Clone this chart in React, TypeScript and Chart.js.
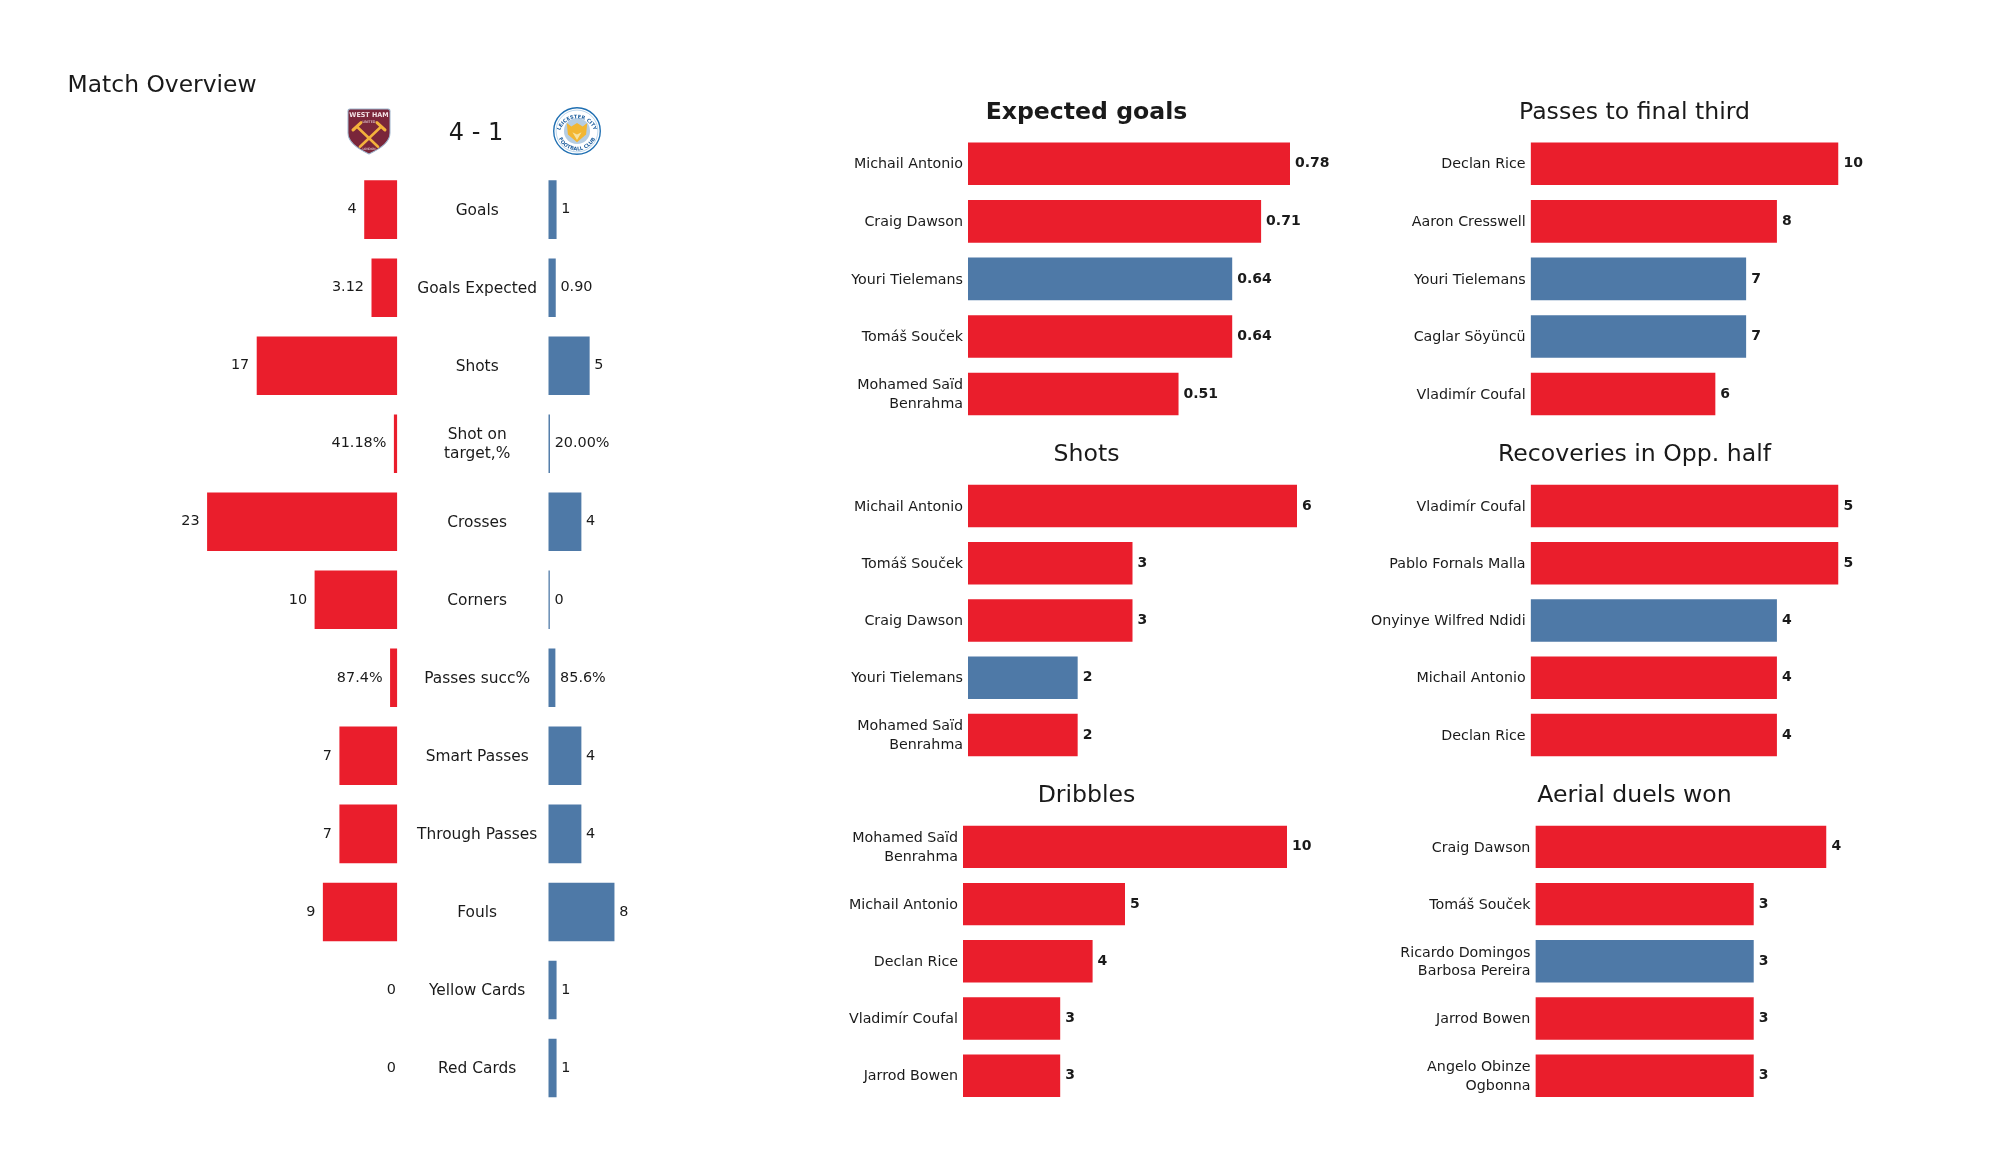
import React, { useEffect, useRef } from "react";
import Chart from "chart.js/auto";

// ---------- data ----------
const overviewCategories = ["Goals", "Goals Expected", "Shots", ["Shot on", "target,%"], "Crosses", "Corners", "Passes succ%", "Smart Passes", "Through Passes", "Fouls", "Yellow Cards", "Red Cards"];
const homeValues = [4, 3.12, 17, 0.4118, 23, 10, 0.874, 7, 7, 9, 0, 0];
const awayValues = [1, 0.9, 5, 0.2, 4, 0, 0.856, 4, 4, 8, 1, 1];
const homeLabels = ["4", "3.12", "17", "41.18%", "23", "10", "87.4%", "7", "7", "9", "0", "0"];
const awayLabels = ["1", "0.90", "5", "20.00%", "4", "0", "85.6%", "4", "4", "8", "1", "1"];

const H = "home";
const A = "away";

const xgNames = ["Michail Antonio", "Craig Dawson", "Youri Tielemans", "Tomáš Souček", ["Mohamed Saïd", "Benrahma"]];
const xgValues = [0.78, 0.71, 0.64, 0.64, 0.51];
const xgTeams = [H, H, A, H, H];

const finalThirdNames = ["Declan Rice", "Aaron Cresswell", "Youri Tielemans", "Caglar Söyüncü", "Vladimír Coufal"];
const finalThirdValues = [10, 8, 7, 7, 6];
const finalThirdTeams = [H, H, A, A, H];

const shotsNames = ["Michail Antonio", "Tomáš Souček", "Craig Dawson", "Youri Tielemans", ["Mohamed Saïd", "Benrahma"]];
const shotsValues = [6, 3, 3, 2, 2];
const shotsTeams = [H, H, H, A, H];

const recoveriesNames = ["Vladimír Coufal", "Pablo Fornals Malla", "Onyinye Wilfred Ndidi", "Michail Antonio", "Declan Rice"];
const recoveriesValues = [5, 5, 4, 4, 4];
const recoveriesTeams = [H, H, A, H, H];

const dribblesNames = [["Mohamed Saïd", "Benrahma"], "Michail Antonio", "Declan Rice", "Vladimír Coufal", "Jarrod Bowen"];
const dribblesValues = [10, 5, 4, 3, 3];
const dribblesTeams = [H, H, H, H, H];

const aerialNames = ["Craig Dawson", "Tomáš Souček", ["Ricardo Domingos", "Barbosa Pereira"], "Jarrod Bowen", ["Angelo Obinze", "Ogbonna"]];
const aerialValues = [4, 3, 3, 3, 3];
const aerialTeams = [H, H, A, H, H];

// ---------- styling ----------
const RED = "#EA1E2C";
const BLUE = "#4E79A7";
const INK = "#1a1a1a";
const FAMILY = "'DejaVu Sans'";
const teamColor = (t: string) => (t === H ? RED : BLUE);

const PX_PER_UNIT = 8.27;
const CENTER_LINE = 397.3;
const AWAY_LEFT = 548.3;
const OV_TOP = 170.6;
const OV_BOTTOM = 1107;

function baseOptions(extra: any) {
  return {
    responsive: false,
    animation: false,
    indexAxis: "y",
    events: [],
    plugins: { legend: { display: false }, tooltip: { enabled: false }, title: { display: false } },
    ...extra,
  };
}

function textPlugin(items: { text: string; x: number; y: number; font: string; align: CanvasTextAlign }[]) {
  return {
    id: "panelText",
    afterDraw(chart: any) {
      const c = chart.ctx;
      c.save();
      c.fillStyle = INK;
      c.textBaseline = "middle";
      for (const t of items) {
        c.font = t.font;
        c.textAlign = t.align;
        c.fillText(t.text, t.x, t.y);
      }
      c.restore();
    },
  };
}

function valuePlugin(labels: string[], font: string, side: "left" | "right", gap: (i: number) => number) {
  return {
    id: "valueLabels",
    afterDatasetsDraw(chart: any) {
      const c = chart.ctx;
      const meta = chart.getDatasetMeta(0);
      c.save();
      c.fillStyle = INK;
      c.font = font;
      c.textBaseline = "middle";
      c.textAlign = side === "left" ? "right" : "left";
      meta.data.forEach((bar: any, i: number) => {
        const x = side === "left" ? bar.x - gap(i) : bar.x + gap(i);
        c.fillText(labels[i], x, bar.y);
      });
      c.restore();
    },
  };
}

type Box = { left: number; top: number; width: number; height: number };

function Canvas({ box, make }: { box: Box; make: (el: HTMLCanvasElement) => any }) {
  const ref = useRef<HTMLCanvasElement>(null);
  useEffect(() => {
    const chart = make(ref.current!);
    return () => chart.destroy();
  }, []);
  return (
    <canvas
      ref={ref}
      width={box.width}
      height={box.height}
      style={{ position: "absolute", left: box.left, top: box.top, width: box.width, height: box.height, display: "block" }}
    />
  );
}

// ---------- home / away overview ----------
const homeBox: Box = { left: 50, top: 60, width: 348, height: 1100 };
const awayBox: Box = { left: 398, top: 60, width: 302, height: 1100 };

function makeHome(el: HTMLCanvasElement) {
  const padLeft = 100;
  const padRight = homeBox.left + homeBox.width - CENTER_LINE;
  const plotWidth = homeBox.width - padLeft - padRight;
  return new Chart(el, {
    type: "bar",
    data: {
      labels: overviewCategories as any,
      datasets: [{ data: homeValues, backgroundColor: RED, barPercentage: 0.75, categoryPercentage: 1, borderWidth: 0 }],
    },
    options: baseOptions({
      layout: {
        autoPadding: false,
        padding: { left: padLeft, right: padRight, top: OV_TOP - homeBox.top, bottom: homeBox.top + homeBox.height - OV_BOTTOM },
      },
      scales: {
        x: { display: false, reverse: true, min: 0, max: plotWidth / PX_PER_UNIT },
        y: { display: false },
      },
    }) as any,
    plugins: [
      valuePlugin(homeLabels, `14.4px ${FAMILY}`, "left", (i) => (homeValues[i] === 0 ? 1.5 : 7.5)),
      textPlugin([{ text: "Match Overview", x: 67.6 - homeBox.left, y: 85.5 - homeBox.top, font: `23.4px ${FAMILY}`, align: "left" }]),
    ] as any,
  });
}

function makeAway(el: HTMLCanvasElement) {
  const axisWidth = AWAY_LEFT - awayBox.left;
  const padRight = 20;
  const plotWidth = awayBox.width - axisWidth - padRight;
  return new Chart(el, {
    type: "bar",
    data: {
      labels: overviewCategories as any,
      datasets: [{ data: awayValues, backgroundColor: BLUE, barPercentage: 0.75, categoryPercentage: 1, borderWidth: 0, minBarLength: 1.5 }],
    },
    options: baseOptions({
      layout: {
        autoPadding: false,
        padding: { left: 0, right: padRight, top: OV_TOP - awayBox.top, bottom: awayBox.top + awayBox.height - OV_BOTTOM },
      },
      scales: {
        x: { display: false, min: 0, max: plotWidth / PX_PER_UNIT },
        y: {
          afterFit(s: any) { s.width = axisWidth; },
          grid: { display: false, drawTicks: false },
          border: { display: false },
          ticks: {
            autoSkip: false, minRotation: 0, maxRotation: 0, padding: 11, crossAlign: "center", color: INK, labelOffset: 1,
            font: { family: FAMILY, size: 15.4, lineHeight: 1.25 },
          },
        },
      },
    }) as any,
    plugins: [
      valuePlugin(awayLabels, `14.4px ${FAMILY}`, "right", () => 4.7),
      textPlugin([{ text: "4 - 1", x: 476 - awayBox.left, y: 133.5 - awayBox.top, font: `24px ${FAMILY}`, align: "center" }]),
    ] as any,
  });
}

// ---------- top-five panels ----------
type PanelDef = {
  title: string; bold?: boolean; titleX: number; titleY: number;
  names: any[]; values: number[]; teams: string[]; labels: string[];
  plotLeft: number; plotRight: number; plotTop: number; plotBottom: number;
};

const AXIS_W = 170;
const RIGHT_PAD = 60;

function panelBox(p: PanelDef): Box {
  const left = Math.floor(p.plotLeft - AXIS_W);
  const right = Math.ceil(p.plotRight + RIGHT_PAD);
  const top = Math.floor(p.titleY - 24);
  const bottom = Math.ceil(p.plotBottom + 40);
  return { left, top, width: right - left, height: bottom - top };
}

function makePanel(el: HTMLCanvasElement, p: PanelDef) {
  const box = panelBox(p);
  const axisWidth = p.plotLeft - box.left;
  return new Chart(el, {
    type: "bar",
    data: {
      labels: p.names as any,
      datasets: [{ data: p.values, backgroundColor: p.teams.map(teamColor), barPercentage: 0.74, categoryPercentage: 1, borderWidth: 0 }],
    },
    options: baseOptions({
      layout: {
        autoPadding: false,
        padding: { left: 0, right: box.left + box.width - p.plotRight, top: p.plotTop - box.top, bottom: box.top + box.height - p.plotBottom },
      },
      scales: {
        x: { display: false, min: 0, max: Math.max(...p.values) },
        y: {
          afterFit(s: any) { s.width = axisWidth; },
          grid: { display: false, drawTicks: false },
          border: { display: false },
          ticks: {
            autoSkip: false, minRotation: 0, maxRotation: 0, padding: 5, color: INK, labelOffset: 1,
            font: { family: FAMILY, size: 14.25, lineHeight: 1.3 },
          },
        },
      },
    }) as any,
    plugins: [
      valuePlugin(p.labels, `bold 14px ${FAMILY}`, "right", () => 5),
      textPlugin([{
        text: p.title, x: p.titleX - box.left, y: p.titleY - box.top,
        font: `${p.bold ? "bold " : ""}23.6px ${FAMILY}`, align: "center",
      }]),
    ] as any,
  });
}

const asText = (a: number[]) => a.map(String);
const asFixed = (a: number[]) => a.map((v) => v.toFixed(2));

const panels: PanelDef[] = [
  { title: "Expected goals", bold: true, titleX: 1086.5, titleY: 113, names: xgNames, values: xgValues, teams: xgTeams, labels: asFixed(xgValues), plotLeft: 968, plotRight: 1290, plotTop: 135, plotBottom: 422.8 },
  { title: "Passes to final third", titleX: 1634.5, titleY: 113, names: finalThirdNames, values: finalThirdValues, teams: finalThirdTeams, labels: asText(finalThirdValues), plotLeft: 1530.6, plotRight: 1838.5, plotTop: 135, plotBottom: 422.8 },
  { title: "Shots", titleX: 1086.5, titleY: 455, names: shotsNames, values: shotsValues, teams: shotsTeams, labels: asText(shotsValues), plotLeft: 968, plotRight: 1297, plotTop: 477.4, plotBottom: 763.6 },
  { title: "Recoveries in Opp. half", titleX: 1634.5, titleY: 455, names: recoveriesNames, values: recoveriesValues, teams: recoveriesTeams, labels: asText(recoveriesValues), plotLeft: 1530.6, plotRight: 1838.5, plotTop: 477.4, plotBottom: 763.6 },
  { title: "Dribbles", titleX: 1086.5, titleY: 795.5, names: dribblesNames, values: dribblesValues, teams: dribblesTeams, labels: asText(dribblesValues), plotLeft: 963, plotRight: 1287, plotTop: 818.2, plotBottom: 1104.4 },
  { title: "Aerial duels won", titleX: 1634.5, titleY: 795.5, names: aerialNames, values: aerialValues, teams: aerialTeams, labels: asText(aerialValues), plotLeft: 1535.4, plotRight: 1826.5, plotTop: 818.2, plotBottom: 1104.4 },
];

// ---------- crests ----------
function WestHamCrest() {
  return (
    <svg width={44} height={48} viewBox="0 0 44 46" preserveAspectRatio="none" style={{ position: "absolute", left: 347, top: 107 }}>
      <path d="M3 2 H41 Q43 2 43 4 V25 Q43 36 22 45 Q1 36 1 25 V4 Q1 2 3 2 Z" fill="#7A263A" stroke="#9db4cc" strokeWidth="1" />
      <text x="22" y="10" textAnchor="middle" fontFamily={FAMILY} fontWeight="bold" fontSize="6.4" fill="#f4e3e6">WEST HAM</text>
      <text x="22" y="15" textAnchor="middle" fontFamily={FAMILY} fontSize="3.4" fill="#f4e3e6">UNITED</text>
      <path d="M10 19 L31 38 M34 19 L13 38" stroke="#F3B23C" strokeWidth="2.6" strokeLinecap="round" />
      <path d="M6 22 L14 15 M38 22 L30 15" stroke="#F3B23C" strokeWidth="3" strokeLinecap="round" />
      <text x="22" y="41" textAnchor="middle" fontFamily={FAMILY} fontSize="3" fill="#f4e3e6">LONDON</text>
    </svg>
  );
}

function LeicesterCrest() {
  return (
    <svg width={50} height={50} viewBox="0 0 44 44" style={{ position: "absolute", left: 552, top: 106 }}>
      <circle cx="22" cy="22" r="20.5" fill="#fff" stroke="#1f6fb2" strokeWidth="1.2" />
      <circle cx="22" cy="22" r="18.4" fill="none" stroke="#9cc3e2" strokeWidth="0.6" />
      <defs>
        <path id="lcUpper" d="M6.5 24 A15.7 15.7 0 0 1 37.5 24" />
        <path id="lcLower" d="M4.5 24 A17.7 17.7 0 0 0 39.5 24" />
      </defs>
      <text fontFamily={FAMILY} fontWeight="bold" fontSize="4.4" fill="#1f5f9e">
        <textPath href="#lcUpper" startOffset="50%" textAnchor="middle">LEICESTER CITY</textPath>
      </text>
      <text fontFamily={FAMILY} fontWeight="bold" fontSize="4.4" fill="#1f5f9e">
        <textPath href="#lcLower" startOffset="50%" textAnchor="middle">FOOTBALL CLUB</textPath>
      </text>
      <circle cx="22" cy="22" r="11.5" fill="#2b6fb0" opacity="0.35" />
      <path d="M13 15 L17 18 L22 15 L27 18 L31 15 L30 25 L22 32 L14 25 Z" fill="#F2B632" />
      <path d="M18 23 L22 30 L26 23 L22 25 Z" fill="#f7e2a0" />
    </svg>
  );
}

export default function App() {
  return (
    <div style={{ position: "absolute", left: 0, top: 0, width: 2000, height: 1175, background: "#fff", overflow: "hidden" }}>
      <Canvas box={homeBox} make={makeHome} />
      <Canvas box={awayBox} make={makeAway} />
      {panels.map((p) => (
        <Canvas key={p.title} box={panelBox(p)} make={(el) => makePanel(el, p)} />
      ))}
      <WestHamCrest />
      <LeicesterCrest />
    </div>
  );
}
